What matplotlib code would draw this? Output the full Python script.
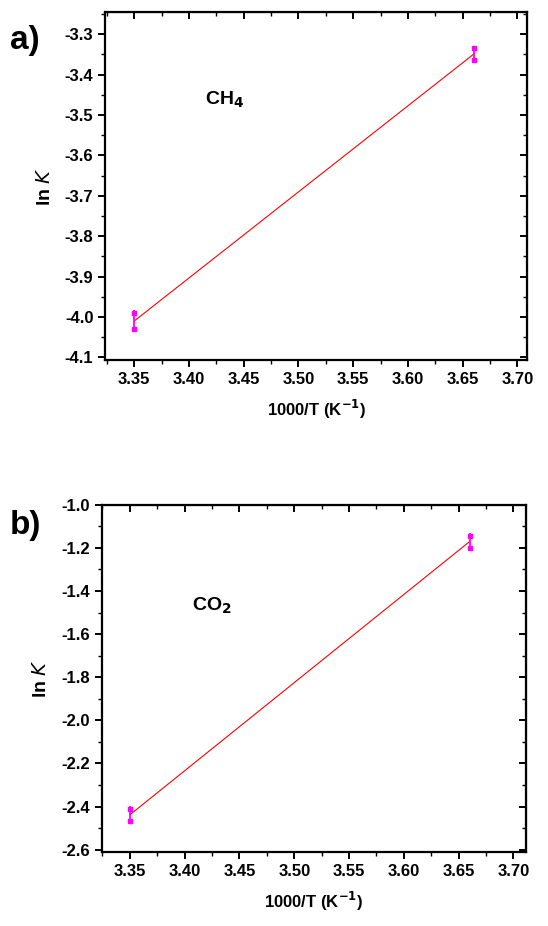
import matplotlib.pyplot as plt
import numpy as np
from matplotlib.ticker import MultipleLocator

plt.rcParams['font.family'] = ['Liberation Sans', 'DejaVu Sans']

inv_t = [3.35, 3.66]

# replicate ln K readings (upper / lower) at each 1000/T
ch4_hi = [-3.99, -3.335]
ch4_lo = [-4.03, -3.364]
co2_hi = [-2.41, -1.143]
co2_lo = [-2.466, -1.199]

x_ticks = [3.35, 3.40, 3.45, 3.50, 3.55, 3.60, 3.65, 3.70]


def panel(ax, hi, lo, ylim, ymajor, label, label_xy):
    x = np.array(inv_t)
    hi = np.array(hi)
    lo = np.array(lo)
    mid = (hi + lo) / 2
    err = (hi - lo) / 2
    slope, icpt = np.polyfit(x, mid, 1)
    ax.plot(x, slope * x + icpt, color='red', lw=0.8)
    ax.errorbar(x, mid, yerr=err * 1.4, fmt='none', ecolor='magenta', elinewidth=1.3)
    ax.plot(x, hi, 's', color='magenta', ms=2.5)
    ax.plot(x, lo, 's', color='magenta', ms=2.5)

    ax.set_ylim(*ylim)
    ax.set_xticks(x_ticks)
    ax.xaxis.set_minor_locator(MultipleLocator(0.025))
    ax.yaxis.set_major_locator(MultipleLocator(ymajor))
    ax.yaxis.set_minor_locator(MultipleLocator(ymajor / 2))
    ax.xaxis.set_major_formatter(plt.FormatStrFormatter('%.2f'))
    ax.yaxis.set_major_formatter(plt.FormatStrFormatter('%.1f'))

    for s in ax.spines.values():
        s.set_linewidth(1.6)
    ax.tick_params(which='major', direction='out', length=5, width=1.4,
                   labelsize=12)
    ax.tick_params(which='minor', direction='out', length=3, width=1.0)
    for lab in ax.get_xticklabels() + ax.get_yticklabels():
        lab.set_fontweight('bold')

    # mirrored axes with inward ticks
    top = ax.secondary_xaxis('top')
    top.set_xticks(x_ticks)
    top.xaxis.set_minor_locator(MultipleLocator(0.025))
    top.tick_params(which='major', direction='in', length=5, width=1.4, labeltop=False)
    top.tick_params(which='minor', direction='in', length=3, width=1.0)
    right = ax.secondary_yaxis('right')
    right.yaxis.set_major_locator(MultipleLocator(ymajor))
    right.yaxis.set_minor_locator(MultipleLocator(ymajor / 2))
    right.tick_params(which='major', direction='in', length=5, width=1.4, labelright=False)
    right.tick_params(which='minor', direction='in', length=3, width=1.0)

    ax.set_xlabel('1000/T (K$^{\\mathbf{-1}}$)', fontsize=12, fontweight='bold', labelpad=8)
    ax.set_ylabel('ln $\\mathit{K}$', fontsize=14, fontweight='bold', labelpad=8)
    ax.text(label_xy[0], label_xy[1], label, fontsize=14, fontweight='bold')


fig = plt.figure(figsize=(5.48, 9.26), dpi=100)
ax1 = fig.add_axes([0.192, 0.611, 0.770, 0.376])
ax2 = fig.add_axes([0.186, 0.080, 0.774, 0.375])

ax1.set_xlim(3.3235, 3.709)
ax2.set_xlim(3.3245, 3.7115)

panel(ax1, ch4_hi, ch4_lo, (-4.107, -3.245), 0.1, 'CH$_\\mathbf{4}$', (3.415, -3.475))
panel(ax2, co2_hi, co2_lo, (-2.61, -1.0), 0.2, 'CO$_\\mathbf{2}$', (3.407, -1.49))

fig.text(0.018, 0.947, 'a)', fontsize=24, fontweight='bold')
fig.text(0.018, 0.423, 'b)', fontsize=24, fontweight='bold')

fig.savefig('out.png', dpi=100)
